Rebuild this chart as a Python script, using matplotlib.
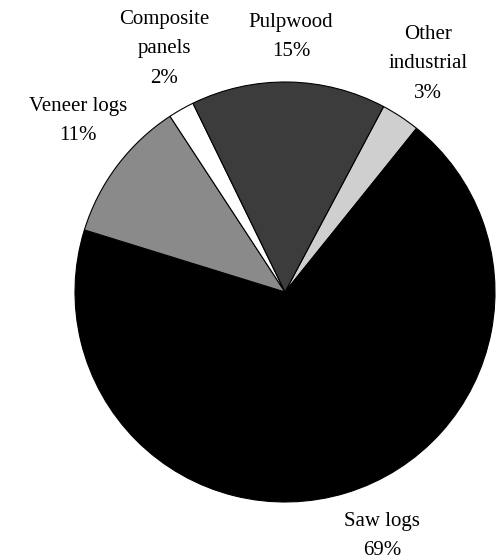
import matplotlib.pyplot as plt

# Shares of industrial roundwood (percent)
labels = ['Other\nindustrial', 'Saw logs', 'Veneer logs', 'Composite\npanels', 'Pulpwood']
shares = [3, 69, 11, 2, 15]
colors = ['#cfcfcf', '#000000', '#8a8a8a', '#ffffff', '#3c3c3c']

W, H = 496, 560
fig = plt.figure(figsize=(W / 100, H / 100), dpi=100)
ax = fig.add_axes([0, 0, 1, 1])

cx, cy, r = 285, H - 292, 210
ax.pie(shares, colors=colors, startangle=62, counterclock=False,
       center=(cx, cy), radius=r, frame=True,
       wedgeprops=dict(edgecolor='black', linewidth=0.8))
ax.set_xlim(0, W)
ax.set_ylim(0, H)
ax.set_aspect('equal')
ax.axis('off')

# label positions in pixels (x, y from top)
label_pos = [(428, 64), (382, 536), (78, 121), (164, 49), (291, 37)]
for lab, val, (px, py) in zip(labels, shares, label_pos):
    ax.text(px, H - py, f'{lab}\n{val}%', ha='center', va='center',
            fontsize=15, family='Liberation Serif', linespacing=1.75)

fig.savefig('out.png', dpi=100, facecolor='white')
